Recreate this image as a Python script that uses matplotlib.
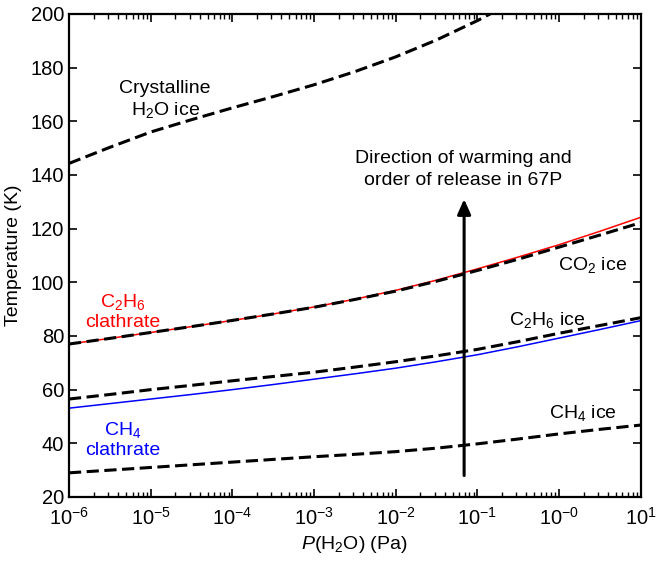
import numpy as np
import matplotlib
matplotlib.use("Agg")
import matplotlib.pyplot as plt

plt.rcParams['font.family'] = ['Liberation Sans', 'DejaVu Sans']
plt.rcParams['mathtext.fontset'] = 'custom'
plt.rcParams['mathtext.rm'] = 'Liberation Sans'
plt.rcParams['mathtext.it'] = 'Liberation Sans:italic'

# pressure grid (Pa), every half decade
pressure = [1e-6, 10**-5.5, 1e-5, 10**-4.5, 1e-4, 10**-3.5, 1e-3, 10**-2.5,
            1e-2, 10**-1.5, 1e-1, 10**-0.5, 1e0, 10**0.5, 1e1]

# temperatures (K)
t_h2o_ice = [144.3, 150.3, 156.0, 160.6, 165.0, 169.2, 173.6, 178.5,
             184.0, 190.3, 197.5, 205.5, 214.0, 223.0, 232.0]
t_c2h6_clath = [77.0, 79.1, 81.3, 83.5, 85.8, 88.2, 90.8, 93.7,
                97.0, 100.8, 105.0, 109.4, 114.0, 119.0, 124.2]
t_co2_ice = [77.0, 79.1, 81.3, 83.5, 85.8, 88.2, 90.7, 93.6,
             96.7, 100.4, 104.4, 108.6, 113.1, 117.6, 122.2]
t_c2h6_ice = [56.5, 58.2, 60.0, 61.6, 63.3, 64.9, 66.5, 68.4,
              70.4, 72.6, 75.0, 77.9, 81.0, 83.9, 86.8]
t_ch4_clath = [53.1, 54.8, 56.5, 58.2, 60.0, 61.9, 63.9, 65.9,
               68.0, 70.4, 73.0, 76.0, 79.2, 82.4, 85.7]
t_ch4_ice = [29.0, 30.0, 31.0, 32.0, 33.0, 34.0, 35.0, 35.9,
             36.9, 38.2, 39.8, 41.6, 43.5, 45.2, 46.8]

xtick_vals = [1e-6, 1e-5, 1e-4, 1e-3, 1e-2, 1e-1, 1e0, 1e1]
xtick_labels = [r'$10^{-6}$', r'$10^{-5}$', r'$10^{-4}$', r'$10^{-3}$',
                r'$10^{-2}$', r'$10^{-1}$', r'$10^{-0}$', r'$10^{1}$']
ytick_vals = [20, 40, 60, 80, 100, 120, 140, 160, 180, 200]

fig = plt.figure(figsize=(6.6, 5.61), dpi=100)
ax = fig.add_axes([0.1045, 0.1141, 0.8661, 0.8610])

dash = dict(color='black', lw=2.2, ls=(0, (4, 1.8)))

ax.plot(pressure, t_c2h6_clath, color='red', lw=1.1)
ax.plot(pressure, t_ch4_clath, color='blue', lw=1.1)
ax.plot(pressure, t_h2o_ice, **dash)
ax.plot(pressure, t_co2_ice, **dash)
ax.plot(pressure, t_c2h6_ice, **dash)
ax.plot(pressure, t_ch4_ice, **dash)

# arrow
ax.annotate('', xy=(0.069, 131), xytext=(0.069, 28),
            arrowprops=dict(arrowstyle='-|>,head_length=0.9,head_width=0.4',
                            color='black', lw=2.2, shrinkA=0, shrinkB=0))

fs = 14
ax.text(1.5e-5, 168, 'Crystalline\nH$_2$O ice', ha='center', va='center',
        fontsize=fs, linespacing=1.2)
ax.text(0.068, 142, 'Direction of warming and\norder of release in 67P',
        ha='center', va='center', fontsize=fs, linespacing=1.35)
ax.text(4.6e-6, 89, 'C$_2$H$_6$\nclathrate', ha='center', va='center',
        fontsize=fs, color='red', linespacing=1.15)
ax.text(4.6e-6, 41.6, 'CH$_4$\nclathrate', ha='center', va='center',
        fontsize=fs, color='blue', linespacing=1.15)
ax.text(2.6, 106.5, 'CO$_2$ ice', ha='center', va='center', fontsize=fs)
ax.text(0.72, 86, 'C$_2$H$_6$ ice', ha='center', va='center', fontsize=fs)
ax.text(1.95, 51.3, 'CH$_4$ ice', ha='center', va='center', fontsize=fs)

ax.set_xscale('log')
ax.set_xlim(1e-6, 1e1)
ax.set_ylim(20, 200)
ax.set_xticks(xtick_vals)
ax.set_xticklabels(xtick_labels)
ax.set_yticks(ytick_vals)

ax.tick_params(which='both', direction='in', top=True, right=True, labelsize=14.5)
ax.tick_params(which='major', length=6, width=1.2)
ax.tick_params(which='minor', length=3.5, width=1)
ax.tick_params(axis='x', which='major', pad=7)
ax.tick_params(axis='y', which='minor', left=False, right=False)
for s in ax.spines.values():
    s.set_linewidth(1.6)

ax.set_xlabel('$P$(H$_2$O) (Pa)', fontsize=fs, labelpad=4)
ax.set_ylabel('Temperature (K)', fontsize=fs, labelpad=6)

fig.savefig('out.png', dpi=100)
